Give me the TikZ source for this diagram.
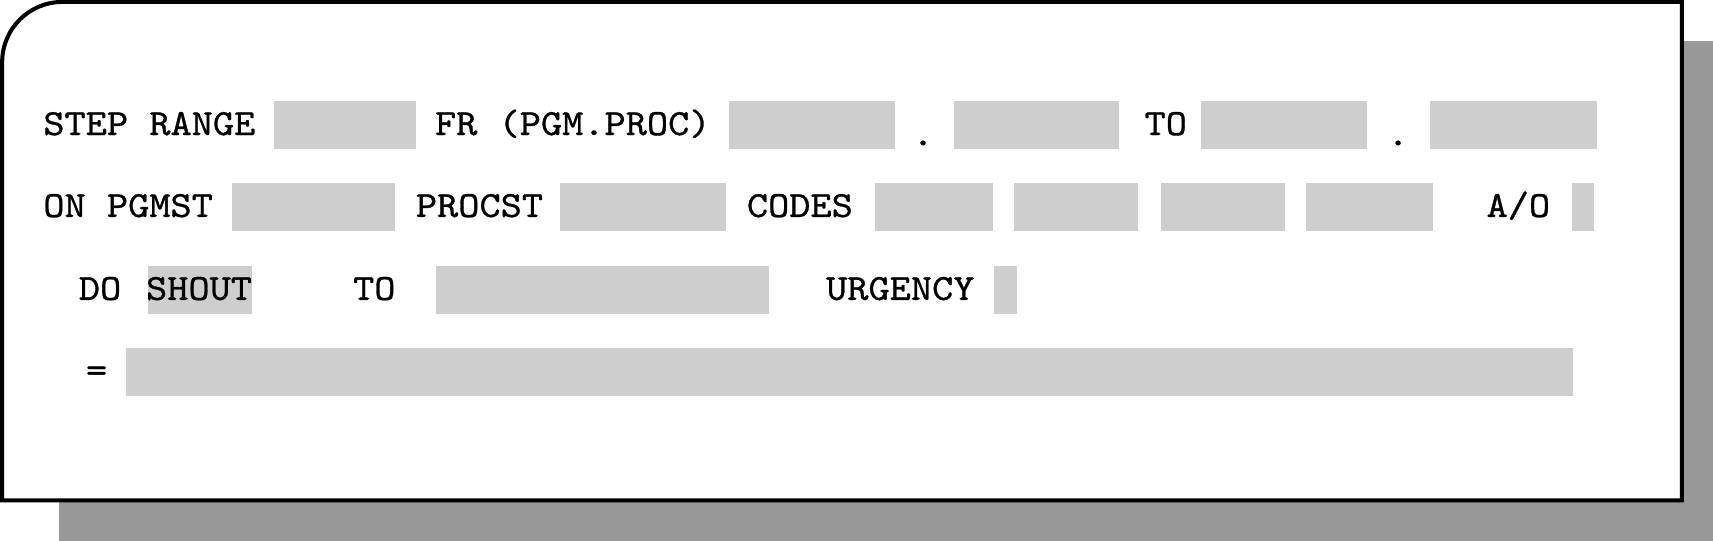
\documentclass[tikz,border=0pt]{standalone}
\usepackage{fontspec}
\newfontfamily\scrmono[FakeStretch=1.095,FakeBold=0.8]{lmmono10-regular.otf}
\definecolor{fieldgray}{RGB}{206,206,206}
\definecolor{shadowgray}{RGB}{152,152,152}
\newcommand{\scrfont}{\scrmono\fontsize{9.6}{11}\selectfont}
\tikzset{
  field/.style={fill=fieldgray, inner sep=0pt, minimum height=0.44cm, anchor=west},
  lbl/.style={anchor=base west, inner sep=0pt, font=\scrfont},
  dotlbl/.style={anchor=base, inner sep=0pt, font=\scrfont}
}
\begin{document}
\begin{tikzpicture}

\useasboundingbox (0,0) rectangle (15.68,-4.95);
%Schatten und Rahmen
\fill[shadowgray] (0.54,-0.38) rectangle (15.68,-4.95);
\draw[line width=1.05pt,fill=white] (0.02,-4.58) -- (0.02,-0.568) arc (180:90:0.55) -- (15.395,-0.018) -- (15.395,-4.58) -- cycle;

%Zeile 1
\node[field,minimum width=1.302cm] (range) at (2.498,-1.144) {};
\node[field,minimum width=1.524cm] (frpgm) at (6.664,-1.144) {};
\node[field,minimum width=1.512cm] (frproc) at (8.728,-1.144) {};
\node[field,minimum width=1.519cm] (topgm) at (10.984,-1.144) {};
\node[field,minimum width=1.528cm] (toproc) at (13.082,-1.144) {};
\node[lbl] (lrange) at (0.39,-1.236) {STEP RANGE};
\node[lbl] (lfr) at (3.975,-1.236) {FR (PGM.PROC)};
\node[dotlbl] (dotfr) at (8.449,-1.33) {.};
\node[lbl] (lto) at (10.47,-1.236) {TO};
\node[dotlbl] (dotto) at (12.797,-1.33) {.};

%Zeile 2
\node[field,minimum width=1.492cm] (pgmst) at (2.116,-1.894) {};
\node[field,minimum width=1.519cm] (procst) at (5.116,-1.894) {};
\foreach \x/\w [count=\i] in {8.00/1.078,9.27/1.137,10.616/1.138,11.944/1.164}{
\node[field,minimum width=\w cm] (code\i) at (\x,-1.894) {};
}
\node[field,minimum width=0.20cm] (ao) at (14.38,-1.894) {};
\node[lbl] (lpgmst) at (0.39,-1.986) {ON PGMST};
\node[lbl] (lprocst) at (3.80,-1.986) {PROCST};
\node[lbl] (lcodes) at (6.83,-1.986) {CODES};
\node[lbl] (lao) at (13.60,-1.986) {A/O};

%Zeile 3
\node[field,minimum width=0.952cm] (shout) at (1.344,-2.653) {};
\node[field,minimum width=3.045cm] (tobox) at (3.987,-2.653) {};
\node[field,minimum width=0.21cm] (urgency) at (9.09,-2.653) {};
\node[lbl] (ldo) at (0.715,-2.745) {DO};
\node[lbl] (lshout) at (1.33,-2.745) {SHOUT};
\node[lbl] (lto2) at (3.225,-2.745) {TO};
\node[lbl] (lurgency) at (7.555,-2.745) {URGENCY};

%Zeile 4
\node[field,minimum width=13.244cm] (textbox) at (1.144,-3.403) {};
\node[lbl] (leq) at (0.78,-3.495) {=};
\end{tikzpicture}
\end{document}
